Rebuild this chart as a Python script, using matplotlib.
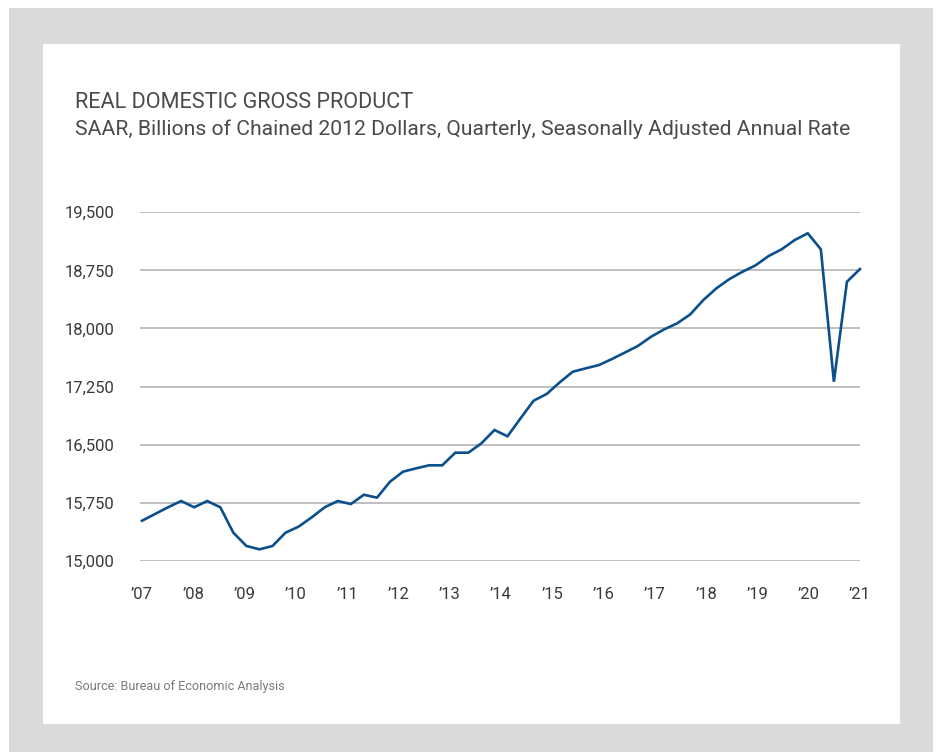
import matplotlib
matplotlib.use("Agg")
import matplotlib.pyplot as plt
from matplotlib import font_manager
from matplotlib.patches import Rectangle
import numpy as np

# Real GDP, quarterly, 2007Q1 - 2020Q4 (billions of chained 2012 dollars, SAAR)
quarters = [f"{y}Q{q}" for y in range(2007, 2021) for q in range(1, 5)]
gdp = [15516, 15603, 15690, 15771,
       15690, 15771, 15690, 15362,
       15190, 15147, 15190, 15362,
       15440, 15560, 15690, 15771,
       15732, 15852, 15814, 16020,
       16150, 16193, 16232, 16232,
       16395, 16395, 16516, 16688,
       16607, 16839, 17067, 17153,
       17304, 17441, 17485, 17527,
       17605, 17689, 17775, 17893,
       17988, 18066, 18182, 18367,
       18518, 18638, 18732, 18815,
       18935, 19022, 19142, 19229,
       19022, 17312, 18603, 18767]
year_labels = ["\u201907", "\u201908", "\u201909", "\u201910", "\u201911", "\u201912", "\u201913",
               "\u201914", "\u201915", "\u201916", "\u201917", "\u201918", "\u201919", "\u201920", "\u201921"]
y_ticks = [15000, 15750, 16500, 17250, 18000, 18750, 19500]

available = {f.name for f in font_manager.fontManager.ttflist}
def pick(*names):
    for n in names:
        if n in available:
            return n
    return "DejaVu Sans"

narrow = pick("Liberation Sans Narrow", "Roboto", "Open Sans")
head = pick("Roboto", "Open Sans", "Lato")

W, H = 938, 752
fig = plt.figure(figsize=(W / 100, H / 100), dpi=100, facecolor="white")

def px_rect(x0, y0, x1, y1, color):
    fig.patches.append(Rectangle((x0 / W, 1 - y1 / H), (x1 - x0) / W, (y1 - y0) / H,
                                 transform=fig.transFigure, facecolor=color,
                                 edgecolor="none", zorder=-10))

px_rect(9, 8, 933, 752, "#dbd9da")
px_rect(43, 44, 900, 724, "white")

left, right, top, bottom = 140, 860, 212.3, 560.7
ax = fig.add_axes([left / W, 1 - bottom / H, (right - left) / W, (bottom - top) / H])
ax.set_facecolor("none")

x = np.arange(len(gdp))
ax.plot(x, gdp, color="#0b4f8c", linewidth=1.9, solid_joinstyle="miter", clip_on=False, zorder=3)

ax.set_xlim(-0.15, len(gdp) - 1)
ax.set_ylim(15000, 19500)
ax.set_yticks(y_ticks)
ax.set_yticklabels([f"{v:,}" for v in y_ticks])
ax.set_xticks(np.linspace(0, len(gdp) - 1, len(year_labels)))
ax.set_xticklabels(year_labels)

ax.grid(axis="y", color="#adadad", linewidth=1.1)
ax.set_axisbelow(True)
for s in ax.spines.values():
    s.set_visible(False)
ax.tick_params(axis="both", length=0, labelcolor="#3a3a3a", labelsize=12)
ax.tick_params(axis="y", pad=18.5)
ax.tick_params(axis="x", pad=19)
for lab in ax.get_xticklabels() + ax.get_yticklabels():
    lab.set_fontfamily(narrow)

fig.text(75 / W, 1 - 108 / H, "REAL DOMESTIC GROSS PRODUCT", fontsize=15.6, color="#4a4a4a",
         family=head, va="baseline", ha="left")
fig.text(75 / W, 1 - 135 / H, "SAAR, Billions of Chained 2012 Dollars, Quarterly, Seasonally Adjusted Annual Rate",
         fontsize=15.2, color="#4a4a4a", family=head, va="baseline", ha="left")
fig.text(75 / W, 1 - 690 / H, "Source: Bureau of Economic Analysis", fontsize=9.1, color="#7a7a7a",
         family=narrow, va="baseline", ha="left")

fig.savefig("out.png", dpi=100, facecolor="white")
